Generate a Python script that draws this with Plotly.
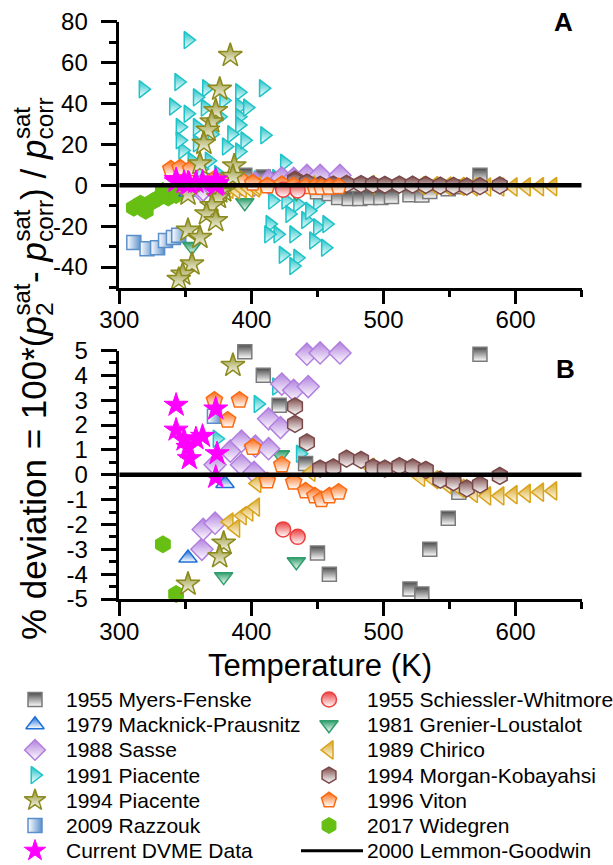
import plotly.graph_objects as go

# ---------------- data (T in K, deviation in %) ----------------
myers_T = [395, 409, 421, 441, 450, 459, 520, 529, 535, 549, 557, 573, 466, 474, 482, 490, 498, 506]
myers_dev = [4.95, 4.0, 2.8, 0.45, -3.15, -4.0, -4.6, -4.8, -3.0, -1.75, -0.7, 4.85, -6.0, -6.5, -6.5, -6.0, -6.0, -5.5]

schiessler_T = [424, 435]
schiessler_dev = [-2.2, -2.5]

macknick_T = [352, 380]
macknick_dev = [-3.35, -0.35]

grenier_T = [355, 379, 395, 422, 434]
grenier_dev = [-30.0, -4.1, -8.5, 0.8, -3.5]

sasse_T = [362.5, 363.5, 372.5, 372.5, 384, 392.5, 392.5, 403, 413, 413, 422, 423, 432, 443, 442, 452, 467, 402]
sasse_dev = [-3.0, -2.2, -1.95, 0.4, 0.95, 1.35, 0.4, 1.15, 1.05, 2.25, 1.9, 3.65, 3.4, 3.55, 4.85, 4.9, 4.9, 0.1]

chirico_T = [383, 388, 393, 398, 403, 404, 445, 490, 528, 538, 548, 558, 568, 578, 588, 598, 608, 618, 628]
chirico_dev = [-1.9, -2.15, -1.65, -1.5, -1.3, -0.35, 0.1, 0.3, -0.1, -0.2, -0.4, -0.55, -0.75, -0.85, -0.85, -0.8, -0.75, -0.7, -0.65]

piacente91_T = [419, 405, 374, 437, 318, 352, 345, 366, 391, 409, 341, 359, 410, 425, 348, 391, 391, 391,
                391, 379, 346, 346, 359, 359, 376, 381, 352, 365, 370, 385, 395, 355, 368, 397, 350, 362,
                375, 388, 416, 426, 435, 450, 414, 420, 413, 429, 432, 441, 450, 457, 456, 447, 435, 432,
                424, 444]
piacente91_dev = [3.55, 2.85, 1.45, 0.85, 47, 71, 50.5, 47.5, 45.5, 47.5, 38.5, 43, 24.5, 11, 17, 38.5, 33.5, 29.5,
                  16.5, 41.5, 28.5, 22, 28.5, 20.5, 33.5, 19, 35, 38, 25, 25, 22, 12, 12, 38, 6, 8,
                  5.5, 7, -7.5, -7.5, -9, -8.3, -19, -24, -24, -14, -24, -17, -20.5, -19, -30.5, -27, -35.5, -39.5,
                  -34, -12.5]

morgan_T = [433, 433, 442, 452, 462, 472, 483, 492, 501, 512, 522, 532, 543, 553, 563, 573, 588]
morgan_dev = [2.75, 2.05, 1.3, 0.25, 0.3, 0.65, 0.6, 0.3, 0.25, 0.35, 0.3, 0.2, -0.2, -0.3, -0.55, -0.4, -0.05]

piacente94_T = [384, 376, 373, 370, 367, 364, 361, 387, 386, 379, 376, 352, 375, 370, 366, 373, 352, 361, 355, 348, 345]
piacente94_dev = [63.5, 47, 36.5, 31, 27, 20.5, 10.5, 9.5, 4.4, -2.75, -3.3, -4.4, -6, -10, -14, -17.3, -22, -25.5, -38.5, -43.5, -46]

viton_T = [339, 346, 354, 372, 391, 382, 401, 423, 412, 432, 441, 448, 453, 459, 466]
viton_dev = [8, 8.5, 8, 3.0, 3.0, 2.2, 1.1, 0.4, -0.25, -0.3, -0.65, -0.85, -1.0, -0.85, -0.7]

razzouk_T = [311, 321, 329, 335, 341, 345, 372]
razzouk_dev = [-28, -31, -30.5, -27, -25.5, -24.5, 2.35]

widegren_T = [311, 316, 320, 325, 329, 333, 337, 343]
widegren_dev = [-11, -9, -12.5, -8, -6.5, -2.8, -6, -4.8]

dvme_T = [343, 343, 349, 352, 353, 358, 363, 373, 374, 373]
dvme_dev = [2.8, 1.8, 1.4, 1.1, 0.65, 1.45, 1.55, 2.65, 0.85, -0.1]

lemmon_T = [300, 650]
lemmon_dev = [0, 0]

xticks = [300, 400, 500, 600]
xminor = [350, 450, 550, 650]
ytickA = [-40, -20, 0, 20, 40, 60, 80]
yminorA = [-50, -30, -10, 10, 30, 50, 70]
ytickB = [-5, -4, -3, -2, -1, 0, 1, 2, 3, 4, 5]
yminorB = [-4.5, -3.5, -2.5, -1.5, -0.5, 0.5, 1.5, 2.5, 3.5, 4.5]

# ---------------- styles ----------------
W, H = 613, 865
FONT = "Liberation Sans, Arial, sans-serif"

# name, T, dev, symbol, color, outline, gradient, size, legend column, legend row
series = [
    ("1991 Piacente", piacente91_T, piacente91_dev, "triangle-right", "#1ec3c8", "#1ec3c8", "vertical", 15, 0, 3),
    ("2009 Razzouk", razzouk_T, razzouk_dev, "square", "#5b8fcb", "#5b8fcb", "horizontal", 14, 0, 5),
    ("2017 Widegren", widegren_T, widegren_dev, "hexagon", "#66bf12", "#66bf12", "none", 17, 1, 5),
    ("1955 Myers-Fenske", myers_T, myers_dev, "square", "#4a4a4a", "#7a7a7a", "vertical", 14, 0, 0),
    ("1979 Macknick-Prausnitz", macknick_T, macknick_dev, "triangle-up", "#1f6fd6", "#1f6fd6", "vertical", 16, 0, 1),
    ("1981 Grenier-Loustalot", grenier_T, grenier_dev, "triangle-down", "#2f9e6c", "#2f9e6c", "vertical", 16, 1, 1),
    ("1988 Sasse", sasse_T, sasse_dev, "diamond", "#b17fde", "#b17fde", "vertical", 17, 0, 2),
    ("1989 Chirico", chirico_T, chirico_dev, "triangle-left", "#d8a41c", "#d8a41c", "vertical", 16, 1, 2),
    ("1994 Morgan-Kobayahsi", morgan_T, morgan_dev, "hexagon", "#7a4848", "#7a4848", "vertical", 17, 1, 3),
    ("1996 Viton", viton_T, viton_dev, "pentagon", "#fb6a12", "#fb6a12", "vertical", 17, 1, 4),
    ("1955 Schiessler-Whitmore", schiessler_T, schiessler_dev, "circle", "#ec3f3f", "#ec3f3f", "vertical", 15, 1, 0),
    ("1994 Piacente", piacente94_T, piacente94_dev, "star", "#8b8a1c", "#8b8a1c", "vertical", 18, 0, 4),
    ("Current DVME Data", dvme_T, dvme_dev, "star", "#ff00ff", "#ff00ff", "none", 18, 0, 6),
]

def make_marker(sym, col, lcol, grad, size):
    if grad == "vertical":
        return dict(symbol=sym, size=size, color=col,
                    gradient=dict(type="vertical", color="white"),
                    line=dict(color=lcol, width=1.5))
    if grad == "horizontal":
        return dict(symbol=sym, size=size, color="white",
                    gradient=dict(type="horizontal", color=col),
                    line=dict(color=lcol, width=1.5))
    return dict(symbol=sym, size=size, color=col, line=dict(color=lcol, width=1))

fig = go.Figure()

for name, T, dev, sym, col, lcol, grad, size, lc, lr in series:
    for panel in ("A", "B"):
        if panel == "B":
            pts = [(t, d) for t, d in zip(T, dev) if abs(d) <= 5.2]
            xs = [p[0] for p in pts]
            ys = [p[1] for p in pts]
            xa, ya = "x2", "y2"
        else:
            xs, ys = T, dev
            xa, ya = "x", "y"
        fig.add_trace(go.Scatter(
            x=xs, y=ys, mode="markers", marker=make_marker(sym, col, lcol, grad, size), name=name,
            xaxis=xa, yaxis=ya, cliponaxis=False, showlegend=False,
        ))

for xa, ya in (("x", "y"), ("x2", "y2")):
    fig.add_trace(go.Scatter(
        x=lemmon_T, y=lemmon_dev, mode="lines", line=dict(color="black", width=4.5),
        name="2000 Lemmon-Goodwin", xaxis=xa, yaxis=ya, showlegend=False, cliponaxis=False,
    ))

# ---------------- manual legend (pixel overlay axis) ----------------
LEG_ROW0, LEG_DY = 699.5, 25.2
LEG_SYM_X = [35.0, 329.0]
LEG_TXT_X = [64.0, 365.0]
LEG_FONT = 21
ann = []
for name, T, dev, sym, col, lcol, grad, size, lc, lr in series:
    yy = LEG_ROW0 + lr * LEG_DY
    fig.add_trace(go.Scatter(
        x=[LEG_SYM_X[lc]], y=[yy], mode="markers",
        marker=make_marker(sym, col, lcol, grad, min(size, 16)),
        xaxis="x3", yaxis="y3", showlegend=False, cliponaxis=False, hoverinfo="skip"))
    ann.append(dict(text=name, x=LEG_TXT_X[lc], y=yy, xref="x3", yref="y3", xanchor="left",
                    yanchor="middle", showarrow=False, font=dict(family=FONT, size=LEG_FONT, color="black")))
yy = LEG_ROW0 + 6 * LEG_DY
fig.add_trace(go.Scatter(x=[LEG_TXT_X[1] - 64, LEG_TXT_X[1] - 2], y=[yy, yy], mode="lines",
                         line=dict(color="black", width=3), xaxis="x3", yaxis="y3",
                         showlegend=False, hoverinfo="skip"))
ann.append(dict(text="2000 Lemmon-Goodwin", x=LEG_TXT_X[1], y=yy, xref="x3", yref="y3", xanchor="left",
                yanchor="middle", showarrow=False, font=dict(family=FONT, size=LEG_FONT, color="black")))

# ---------------- axes ----------------
x0, x1 = 119.3 / W, 581.7 / W
yA = [(H - 287.5) / H, (H - 21.7) / H]
yB = [(H - 599.0) / H, (H - 350.5) / H]

axis_common = dict(showline=True, linecolor="black", linewidth=2.5, ticks="outside",
                   tickwidth=2.5, tickcolor="black", ticklen=16, showgrid=False, zeroline=False,
                   automargin=False, tickfont=dict(family=FONT, size=24, color="black"))

def xaxis(anchor):
    return dict(axis_common, domain=[x0, x1], range=[300, 650], anchor=anchor,
                tickmode="array", tickvals=xticks, ticktext=[str(v) for v in xticks],
                ticklen=14, ticklabelstandoff=-5,
                minor=dict(tickmode="array", tickvals=xminor, ticks="outside", ticklen=7,
                           tickwidth=2.5, tickcolor="black"))

def fmt(v):
    return "%g" % v

fig.update_layout(
    template="none",
    width=W, height=H, margin=dict(l=0, r=0, t=0, b=0, autoexpand=False),
    paper_bgcolor="white", plot_bgcolor="rgba(0,0,0,0)",
    font=dict(family=FONT, color="black"),
    xaxis=xaxis("y"),
    xaxis2=xaxis("y2"),
    yaxis=dict(axis_common, domain=yA, range=[-50, 80], anchor="x",
               tickmode="array", tickvals=ytickA, ticktext=[fmt(v) for v in ytickA],
               ticklabelstandoff=8,
               minor=dict(tickmode="array", tickvals=yminorA, ticks="outside", ticklen=8,
                          tickwidth=2.5, tickcolor="black")),
    yaxis2=dict(axis_common, domain=yB, range=[-5, 5], anchor="x2",
                tickmode="array", tickvals=ytickB, ticktext=[fmt(v) for v in ytickB],
                ticklabelstandoff=8,
                minor=dict(tickmode="array", tickvals=yminorB, ticks="outside", ticklen=8,
                           tickwidth=2.5, tickcolor="black")),
    xaxis3=dict(domain=[0, 1], range=[0, W], visible=False, anchor="y3", fixedrange=True),
    yaxis3=dict(domain=[0, 1], range=[H, 0], visible=False, anchor="x3", fixedrange=True),
    showlegend=False,
)

ann.append(dict(text="<b>A</b>", x=563 / W, y=(H - 22) / H, xref="paper", yref="paper",
                xanchor="center", yanchor="middle",
                showarrow=False, font=dict(family=FONT, size=26, color="black")))
ann.append(dict(text="<b>B</b>", x=565 / W, y=(H - 369) / H, xref="paper", yref="paper",
                xanchor="center", yanchor="middle",
                showarrow=False, font=dict(family=FONT, size=26, color="black")))
ann.append(dict(text="Temperature (K)", x=320 / W, y=(H - 665) / H, xref="paper", yref="paper",
                xanchor="center", yanchor="middle",
                showarrow=False, font=dict(family=FONT, size=31, color="black")))

# y title (rotated) with stacked scripts emulated by overlaid "sat" labels
TF = 35
main = ("% deviation = 100*(<i>p</i><sub>2</sub>\u00a0\u00a0- <i>p</i><sub>corr</sub>) / "
        "<i>p</i><sub>corr</sub>")
yc = 369.0
ann.append(dict(text=main, x=12 / W, y=(H - yc) / H, xref="paper", yref="paper", textangle=-90,
                xanchor="left", yanchor="middle",
                showarrow=False, font=dict(family=FONT, size=TF, color="black")))
Ltot = 15.5 * TF
for s_em in (9.722, 11.834, 14.762):
    ypix = yc + Ltot / 2 - s_em * TF
    ann.append(dict(text="sat", x=6 / W, y=(H - ypix) / H, xref="paper", yref="paper",
                    textangle=-90, xanchor="left", yanchor="middle", showarrow=False,
                    font=dict(family=FONT, size=round(TF * 0.7), color="black")))
fig.update_layout(annotations=ann)

fig.write_html("out.html")
